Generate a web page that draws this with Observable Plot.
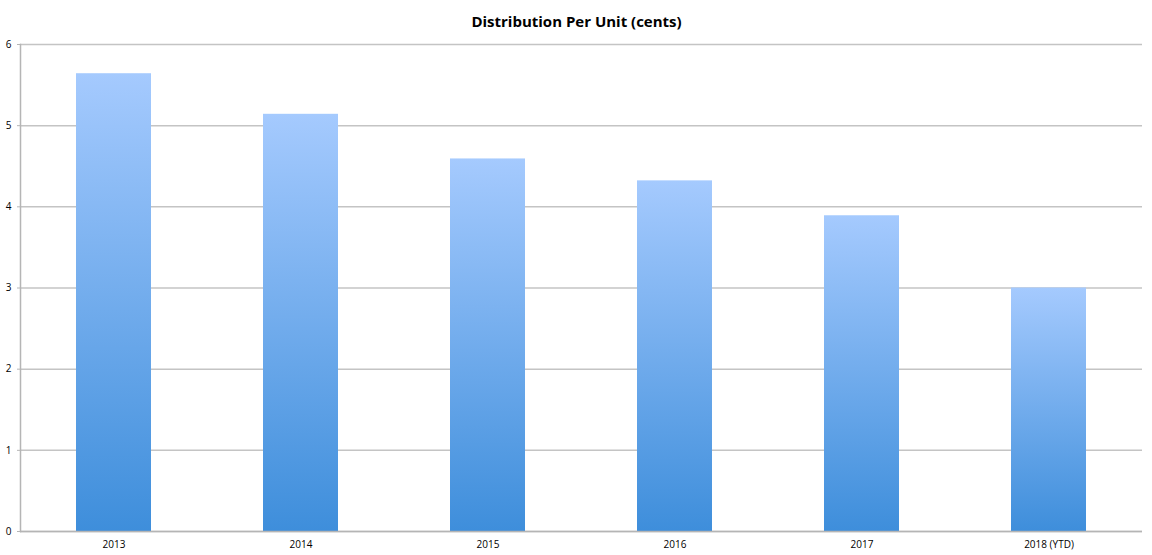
<!DOCTYPE html>
<html>
<head>
<meta charset="utf-8">
<script src="https://cdn.jsdelivr.net/npm/d3@7"></script>
<script src="https://cdn.jsdelivr.net/npm/@observablehq/plot@0.6"></script>
<style>
  html, body { margin: 0; padding: 0; background: #fff; }
  #chart svg { display: block; }
</style>
</head>
<body>
<div id="chart"></div>
<script>
const title = "Distribution Per Unit (cents)";
const years = ["2013", "2014", "2015", "2016", "2017", "2018 (YTD)"];
const values = [5.64, 5.14, 4.59, 4.32, 3.89, 3.0];
const yTicks = [0, 1, 2, 3, 4, 5, 6];

const data = years.map((year, i) => ({year, value: values[i]}));

const chart = Plot.plot({
  width: 1152,
  height: 555,
  marginTop: 44,
  marginBottom: 24,
  marginLeft: 20,
  marginRight: 10,
  style: {fontFamily: "'Open Sans', 'Liberation Sans', sans-serif", fontSize: "10px", color: "#000", background: "#fff"},
  x: {domain: years, paddingInner: 0.6, paddingOuter: 0.3, label: null, tickSize: 0, tickPadding: 9},
  y: {domain: [0, 6], ticks: yTicks, label: null, tickSize: 3, tickPadding: 6, tickFormat: "d"},
  marks: [
    Plot.gridY(yTicks, {stroke: "#c4c4c4", strokeOpacity: 1, strokeWidth: 1.5}),
    Plot.barY(data, {x: "year", y: "value", fill: "url(#barGrad)"}),
    Plot.frame({anchor: "left", stroke: "#b5b5b5", strokeWidth: 1.5}),
    Plot.axisY({ticks: yTicks, tickSize: 3, tickPadding: 6, tickFormat: "d", stroke: "#b5b5b5"}),
    Plot.axisX({tickSize: 0, tickPadding: 9}),
    Plot.ruleY([0], {stroke: "#b5b5b5", strokeWidth: 1.5}),
    Plot.text([title], {frameAnchor: "top", dy: -28, dx: -5, fontSize: 15, fontWeight: "bold", fill: "#000", fontFamily: "'Open Sans', 'Liberation Sans', sans-serif"})
  ]
});

const svg = d3.select(chart);
const defs = svg.insert("defs", ":first-child");
const grad = defs.append("linearGradient")
  .attr("id", "barGrad")
  .attr("x1", 0).attr("y1", 0).attr("x2", 0).attr("y2", 1);
grad.append("stop").attr("offset", "0%").attr("stop-color", "#a5cafe");
grad.append("stop").attr("offset", "100%").attr("stop-color", "#3e8edb");

document.getElementById("chart").appendChild(chart);
</script>
</body>
</html>
